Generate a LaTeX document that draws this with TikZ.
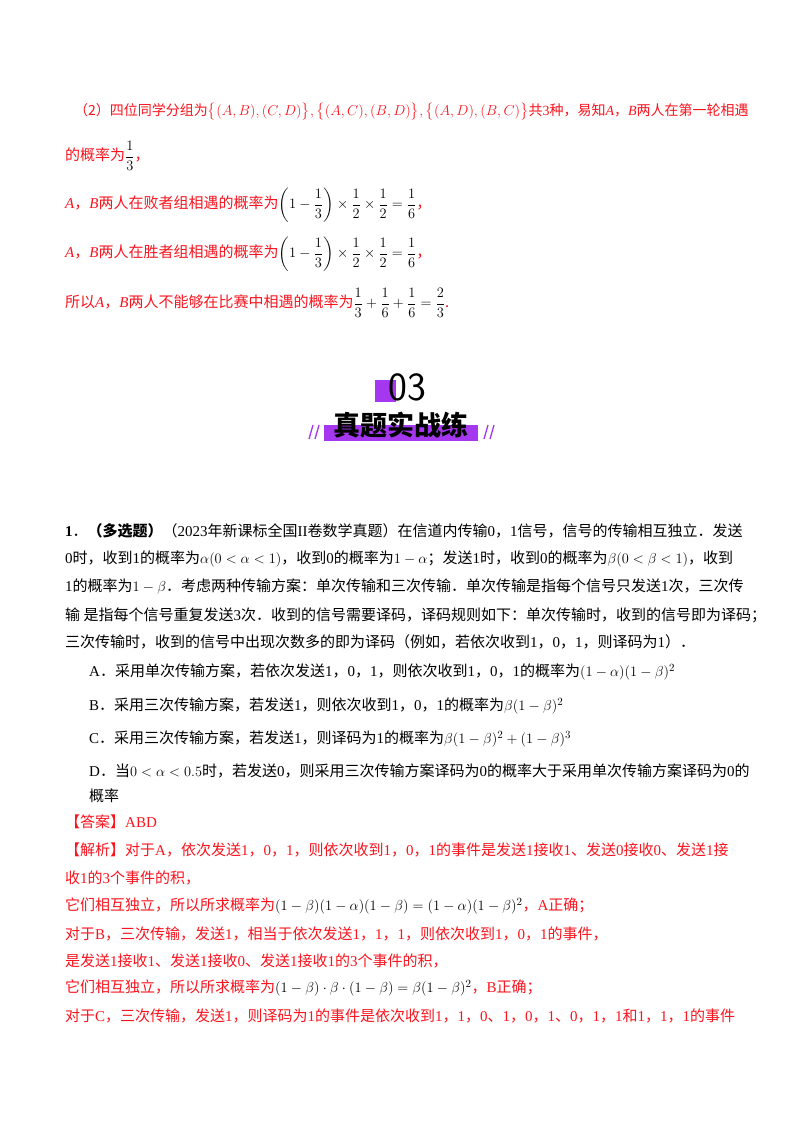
\documentclass[tikz,border=0pt]{standalone}
\usepackage{fontspec}
\usepackage{amsmath}
\setmainfont{Noto Sans CJK SC}
\newfontfamily\lat{Liberation Serif}
\definecolor{rd}{RGB}{250,20,30}
\definecolor{pp}{RGB}{165,55,240}
\begin{document}
\begin{tikzpicture}[x=1pt,y=-1pt,
  ln/.style={anchor=west,inner sep=0pt,font=\fontsize{15}{15}\selectfont},
  r/.style={ln,text=rd}]
\useasboundingbox[fill=white] (0,0) rectangle (800,1132);
\node[r,font=\fontsize{14}{14}\selectfont] (l1) at (74,112) {（2）四位同学分组为$\bigl\{(A,B),(C,D)\bigr\},\bigl\{(A,C),(B,D)\bigr\},\bigl\{(A,D),(B,C)\bigr\}$共{\lat 3}种，易知{\lat\itshape A}，{\lat\itshape B}两人在第一轮相遇};
\node[r] (l2) at (65,156) {的概率为\textcolor{black}{$\dfrac13$}，};
\node[r] (l3) at (65,205) {{\lat\itshape A}，{\lat\itshape B}两人在败者组相遇的概率为\textcolor{black}{$\left(1-\dfrac13\right)\times\dfrac12\times\dfrac12=\dfrac16$}，};
\node[r] (l4) at (65,254) {{\lat\itshape A}，{\lat\itshape B}两人在胜者组相遇的概率为\textcolor{black}{$\left(1-\dfrac13\right)\times\dfrac12\times\dfrac12=\dfrac16$}，};
\node[r] (l5) at (65,303) {所以{\lat\itshape A}，{\lat\itshape B}两人不能够在比赛中相遇的概率为\textcolor{black}{$\dfrac13+\dfrac16+\dfrac16=\dfrac23$}.};
% banner
\fill[pp] (375,380) rectangle (396,402);
\node[inner sep=0pt,font=\fontsize{40}{40}\selectfont\sffamily] (n03) at (407,387) {03};
\fill[pp] (324,425) rectangle (478,441);
\node[inner sep=0pt,font=\fontsize{27}{27}\selectfont\bfseries] (ttl) at (401,425) {真题实战练};
\foreach \x in {309,315,484,490}{\draw[pp,line width=1.3pt] (\x,439) -- (\x+4,425);}
% question
\node[ln] (q1) at (65,531) {{\lat\bfseries 1}．\textbf{（多选题）}（{\lat 2023}年新课标全国{\lat II}卷数学真题）在信道内传输{\lat 0}，{\lat 1}信号，信号的传输相互独立．发送};
\node[ln] (q2) at (65,559) {{\lat 0}时，收到{\lat 1}的概率为$\alpha(0<\alpha<1)$，收到{\lat 0}的概率为$1-\alpha$；发送{\lat 1}时，收到{\lat 0}的概率为$\beta(0<\beta<1)$，收到};
\node[ln] (q3) at (65,587) {{\lat 1}的概率为$1-\beta$．考虑两种传输方案：单次传输和三次传输．单次传输是指每个信号只发送{\lat 1}次，三次传};
\node[ln] (q4) at (65,615) {输\ 是指每个信号重复发送{\lat 3}次．收到的信号需要译码，译码规则如下：单次传输时，收到的信号即为译码；};
\node[ln] (q5) at (65,642) {三次传输时，收到的信号中出现次数多的即为译码（例如，若依次收到{\lat 1}，{\lat 0}，{\lat 1}，则译码为{\lat 1}）．};
\node[ln] (oa) at (89,672) {{\lat A}．采用单次传输方案，若依次发送{\lat 1}，{\lat 0}，{\lat 1}，则依次收到{\lat 1}，{\lat 0}，{\lat 1}的概率为$(1-\alpha)(1-\beta)^2$};
\node[ln] (ob) at (89,706) {{\lat B}．采用三次传输方案，若发送{\lat 1}，则依次收到{\lat 1}，{\lat 0}，{\lat 1}的概率为$\beta(1-\beta)^2$};
\node[ln] (oc) at (89,739) {{\lat C}．采用三次传输方案，若发送{\lat 1}，则译码为{\lat 1}的概率为$\beta(1-\beta)^2+(1-\beta)^3$};
\node[ln] (od) at (89,771) {{\lat D}．当$0<\alpha<0.5$时，若发送{\lat 0}，则采用三次传输方案译码为{\lat 0}的概率大于采用单次传输方案译码为{\lat 0}的};
\node[ln] (od2) at (89,796) {概率};
\node[r] (ans) at (65,822) {【答案】{\lat ABD}};
\node[r] (s1) at (65,850) {【解析】对于{\lat A}，依次发送{\lat 1}，{\lat 0}，{\lat 1}，则依次收到{\lat 1}，{\lat 0}，{\lat 1}的事件是发送{\lat 1}接收{\lat 1}、发送{\lat 0}接收{\lat 0}、发送{\lat 1}接};
\node[r] (s2) at (65,878) {收{\lat 1}的{\lat 3}个事件的积，};
\node[r] (s3) at (65,906) {它们相互独立，所以所求概率为\textcolor{black}{$(1-\beta)(1-\alpha)(1-\beta)=(1-\alpha)(1-\beta)^2$}，{\lat A}正确；};
\node[r] (s4) at (65,934) {对于{\lat B}，三次传输，发送{\lat 1}，相当于依次发送{\lat 1}，{\lat 1}，{\lat 1}，则依次收到{\lat 1}，{\lat 0}，{\lat 1}的事件，};
\node[r] (s5) at (65,961) {是发送{\lat 1}接收{\lat 1}、发送{\lat 1}接收{\lat 0}、发送{\lat 1}接收{\lat 1}的{\lat 3}个事件的积，};
\node[r] (s6) at (65,988) {它们相互独立，所以所求概率为\textcolor{black}{$(1-\beta)\cdot\beta\cdot(1-\beta)=\beta(1-\beta)^2$}，{\lat B}正确；};
\node[r] (s7) at (65,1016) {对于{\lat C}，三次传输，发送{\lat 1}，则译码为{\lat 1}的事件是依次收到{\lat 1}，{\lat 1}，{\lat 0}、{\lat 1}，{\lat 0}，{\lat 1}、{\lat 0}，{\lat 1}，{\lat 1}和{\lat 1}，{\lat 1}，{\lat 1}的事件};
\end{tikzpicture}
\end{document}
